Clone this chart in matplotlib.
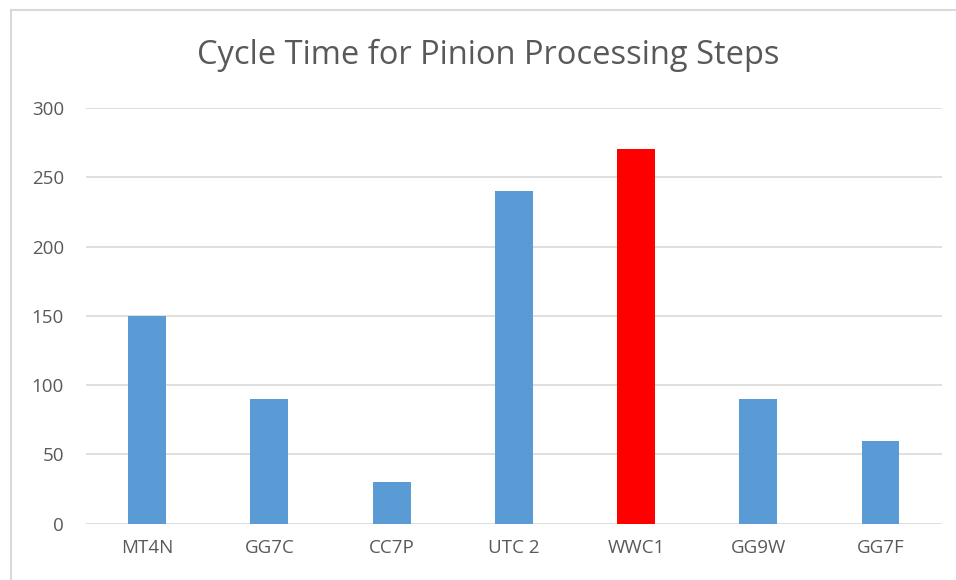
import matplotlib.pyplot as plt
from matplotlib.lines import Line2D

steps = ["MT4N", "GG7C", "CC7P", "UTC 2", "WWC1", "GG9W", "GG7F"]
cycle_time = [150, 90, 30, 240, 270, 90, 60]
bottleneck = "WWC1"
y_ticks = [0, 50, 100, 150, 200, 250, 300]

BLUE = "#5B9BD5"
RED = "#FF0000"
TEXT = "#595959"

plt.rcParams["font.family"] = ["Open Sans", "DejaVu Sans"]

fig = plt.figure(figsize=(9.56, 5.8), dpi=100)
ax = fig.add_axes([0.090, 0.097, 0.895, 0.717])

colors = [RED if s == bottleneck else BLUE for s in steps]
ax.bar(range(len(steps)), cycle_time, width=0.31, color=colors, zorder=3)

ax.set_xlim(-0.5, len(steps) - 0.5)
ax.set_ylim(0, 300)
ax.set_yticks(y_ticks)
ax.set_xticks(range(len(steps)))
ax.set_xticklabels(steps)
ax.grid(axis="y", color="#D9D9D9", linewidth=1.2, zorder=0)
for side in ["top", "right", "left", "bottom"]:
    ax.spines[side].set_visible(False)
ax.tick_params(axis="both", length=0, labelsize=13.5, labelcolor=TEXT)
ax.tick_params(axis="x", pad=11)
ax.tick_params(axis="y", pad=16)

fig.text(0.511, 0.905, "Cycle Time for Pinion Processing Steps",
         ha="center", va="center", fontsize=23.5, color=TEXT)

# chart border (left and top edges only are visible in the reference)
fig.add_artist(Line2D([0.011, 0.011], [0.0, 0.983], transform=fig.transFigure,
                      color="#D9D9D9", linewidth=1.5))
fig.add_artist(Line2D([0.011, 1.0], [0.983, 0.983], transform=fig.transFigure,
                      color="#D9D9D9", linewidth=1.5))

fig.savefig("out.png", dpi=100)
plt.close(fig)
